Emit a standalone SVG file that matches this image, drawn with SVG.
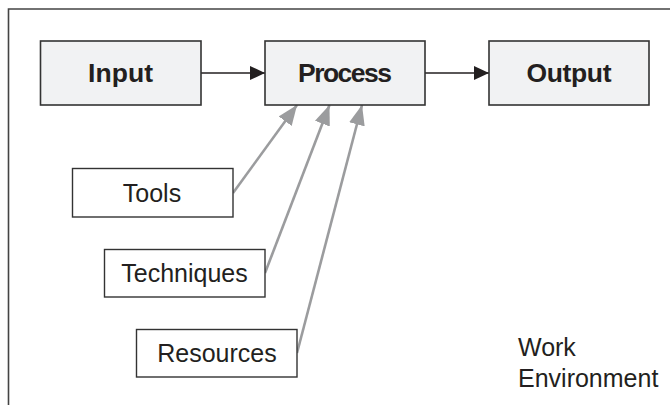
<svg xmlns="http://www.w3.org/2000/svg" width="670" height="405" viewBox="0 0 670 405">
<style>
.main{fill:#f1f2f3;stroke:#333;stroke-width:1.6}
.side{fill:#fff;stroke:#333;stroke-width:1.4}
.bt{font-family:"Liberation Sans",Arial,sans-serif;font-weight:bold;font-size:26.5px;fill:#231f20;text-anchor:middle}
.t{font-family:"Liberation Sans",Arial,sans-serif;font-size:25px;fill:#231f20;text-anchor:middle}
.blk{stroke:#231f20;stroke-width:1.5;fill:none}
.gry{stroke:#9b9c9e;stroke-width:2.6;fill:none}
</style>
<defs>
<marker id="ab" markerUnits="userSpaceOnUse" markerWidth="16" markerHeight="14" refX="15" refY="7" orient="auto">
<path d="M0,0 L15,7 L0,14 z" fill="#231f20"/>
</marker>
<marker id="ag" markerUnits="userSpaceOnUse" markerWidth="21" markerHeight="16" refX="20" refY="8" orient="auto">
<path d="M0,0 L20,8 L0,16 z" fill="#9b9c9e"/>
</marker>
</defs>
<polyline points="8.5,405 8.5,9 670,9" fill="none" stroke="#444" stroke-width="1.6"/>
<g id="connectors">
<line class="blk" x1="201" y1="73" x2="265" y2="73" marker-end="url(#ab)"/>
<line class="blk" x1="425" y1="73" x2="489" y2="73" marker-end="url(#ab)"/>
<line class="gry" x1="233" y1="193" x2="297" y2="105" marker-end="url(#ag)"/>
<line class="gry" x1="265" y1="273" x2="329.5" y2="105" marker-end="url(#ag)"/>
<line class="gry" x1="297" y1="353" x2="362" y2="105" marker-end="url(#ag)"/>
</g>
<g id="input">
<rect class="main" x="40.5" y="41" width="160.5" height="64"/>
<text class="bt" x="120.5" y="82" textLength="65">Input</text>
</g>
<g id="process">
<rect class="main" x="265" y="41" width="160" height="64"/>
<text class="bt" x="345" y="82" textLength="94">Process</text>
</g>
<g id="output">
<rect class="main" x="489" y="41" width="160" height="64"/>
<text class="bt" x="569" y="82" textLength="85">Output</text>
</g>
<g id="tools">
<rect class="side" x="72.5" y="168.5" width="160.5" height="48.5"/>
<text class="t" x="152" y="201.5">Tools</text>
</g>
<g id="techniques">
<rect class="side" x="104.5" y="249.5" width="160.5" height="47.5"/>
<text class="t" x="184.5" y="282">Techniques</text>
</g>
<g id="resources">
<rect class="side" x="136.5" y="329.5" width="160.5" height="47.5"/>
<text class="t" x="217" y="362">Resources</text>
</g>
<g id="work-environment">
<text class="t" style="text-anchor:start" x="518" y="355.5">Work</text>
<text class="t" style="text-anchor:start" x="518" y="387">Environment</text>
</g>
</svg>
